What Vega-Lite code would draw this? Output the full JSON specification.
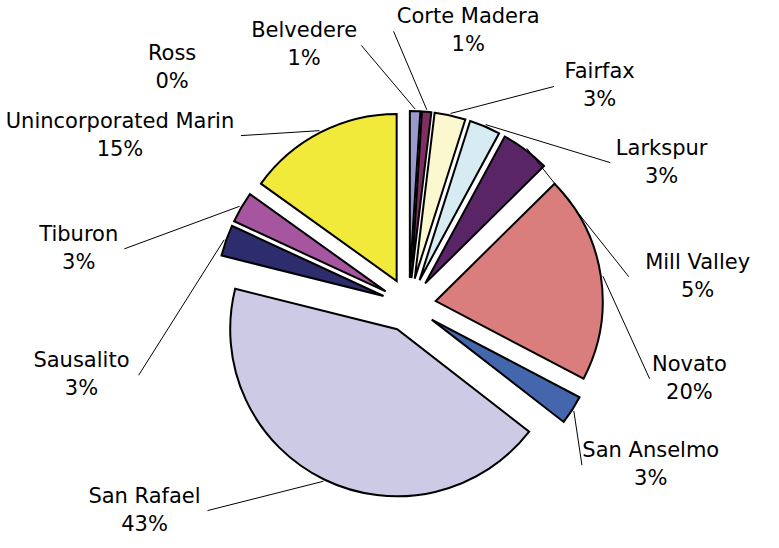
{
  "$schema": "https://vega.github.io/schema/vega-lite/v6.json",
  "width": 740,
  "height": 486,
  "autosize": {"type": "none"},
  "padding": {"left": 39, "top": 62, "right": 0, "bottom": 0},
  "background": "white",
  "config": {"view": {"stroke": null}},
  "data": {
    "values": [
      {"idx": 1, "city": "Belvedere", "share": 0.010},
      {"idx": 2, "city": "Corte Madera", "share": 0.009},
      {"idx": 3, "city": "Fairfax", "share": 0.030},
      {"idx": 4, "city": "Larkspur", "share": 0.030},
      {"idx": 5, "city": "Mill Valley", "share": 0.047},
      {"idx": 6, "city": "Novato", "share": 0.201},
      {"idx": 7, "city": "San Anselmo", "share": 0.028},
      {"idx": 8, "city": "San Rafael", "share": 0.434},
      {"idx": 9, "city": "Sausalito", "share": 0.030},
      {"idx": 10, "city": "Tiburon", "share": 0.030},
      {"idx": 11, "city": "Unincorporated Marin", "share": 0.151},
      {"idx": 12, "city": "Ross", "share": 0.0}
    ]
  },
  "layer": [
    {
      "transform": [{"filter": "datum.share > 0"}],
      "mark": {
        "type": "arc",
        "outerRadius": 167,
        "stroke": "black",
        "strokeWidth": 2,
        "strokeJoin": "miter",
        "xOffset": {"expr": "27*sin(PI*(datum.share_start+datum.share_end))"},
        "yOffset": {"expr": "-27*cos(PI*(datum.share_start+datum.share_end))"}
      },
      "encoding": {
        "theta": {"field": "share", "type": "quantitative", "stack": true, "scale": {"domain": [0, 1]}},
        "color": {
          "field": "city",
          "type": "nominal",
          "legend": null,
          "scale": {
            "domain": ["Belvedere", "Corte Madera", "Fairfax", "Larkspur", "Mill Valley", "Novato", "San Anselmo", "San Rafael", "Sausalito", "Tiburon", "Unincorporated Marin", "Ross"],
            "range": ["#9999cc", "#7f2f62", "#fbf8cf", "#d7ecf2", "#5a2566", "#d97d7d", "#4466ad", "#cdcae6", "#2d2d6e", "#a6559f", "#f2ea3a", "#cccccc"]
          }
        },
        "order": {"field": "idx", "type": "quantitative"}
      }
    },
    {
      "mark": {"type": "text", "radius": {"expr": "datum.share_start + datum.share_end > 1 ? 335 : (datum.share_start + datum.share_end < 0.04 ? 280 : 290)"}, "baseline": "line-bottom", "align": "center", "font": "DejaVu Sans", "fontSize": 21, "lineHeight": 28, "color": "black"},
      "encoding": {
        "theta": {"field": "share", "type": "quantitative", "stack": true,
          "scale": {"domain": [0, 0.02, 0.10, 0.35, 0.58, 0.80, 0.84, 1.0], "range": [-0.6981, 0.5585, 1.4661, 2.1817, 4.1190, 4.4506, 4.9567, 5.4978]}},
        "detail": {"field": "city", "type": "nominal"},
        "order": {"field": "idx", "type": "quantitative"},
        "text": {"field": "city", "type": "nominal"}
      }
    },
    {
      "mark": {"type": "text", "radius": {"expr": "datum.share_start + datum.share_end > 1 ? 335 : (datum.share_start + datum.share_end < 0.04 ? 280 : 290)"}, "baseline": "line-top", "align": "center", "font": "DejaVu Sans", "fontSize": 21, "lineHeight": 28, "color": "black"},
      "encoding": {
        "theta": {"field": "share", "type": "quantitative", "stack": true,
          "scale": {"domain": [0, 0.02, 0.10, 0.35, 0.58, 0.80, 0.84, 1.0], "range": [-0.6981, 0.5585, 1.4661, 2.1817, 4.1190, 4.4506, 4.9567, 5.4978]}},
        "detail": {"field": "city", "type": "nominal"},
        "order": {"field": "idx", "type": "quantitative"},
        "text": {"field": "share", "type": "quantitative", "format": ".0%"}
      }
    },
    {
      "transform": [
        {"filter": "datum.share > 0"},
        {"stack": "share", "groupby": [], "sort": [{"field": "idx", "order": "ascending"}], "as": ["s0", "s1"]}
      ],
      "mark": {"type": "rule", "color": "black", "strokeWidth": 1},
      "encoding": {
        "x": {"value": {"expr": "width/2 + 196*sin(PI*(datum.s0+datum.s1))"}},
        "y": {"value": {"expr": "height/2 - 196*cos(PI*(datum.s0+datum.s1))"}},
        "x2": {"value": {"expr": "width/2 + (datum.s0 + datum.s1 > 1 ? 335 : (datum.s0 + datum.s1 < 0.04 ? 280 : 290))*sin(scale('layer_1_theta', (datum.s0+datum.s1)/2)) - (sin(scale('layer_1_theta', (datum.s0+datum.s1)/2)) < 0 ? -1 : 1)*(5.8*length(datum.city)+5)"}},
        "y2": {"value": {"expr": "height/2 - (datum.s0 + datum.s1 > 1 ? 335 : (datum.s0 + datum.s1 < 0.04 ? 280 : 290))*cos(scale('layer_1_theta', (datum.s0+datum.s1)/2))"}}
      }
    }
  ],
  "resolve": {"scale": {"theta": "independent"}}
}
